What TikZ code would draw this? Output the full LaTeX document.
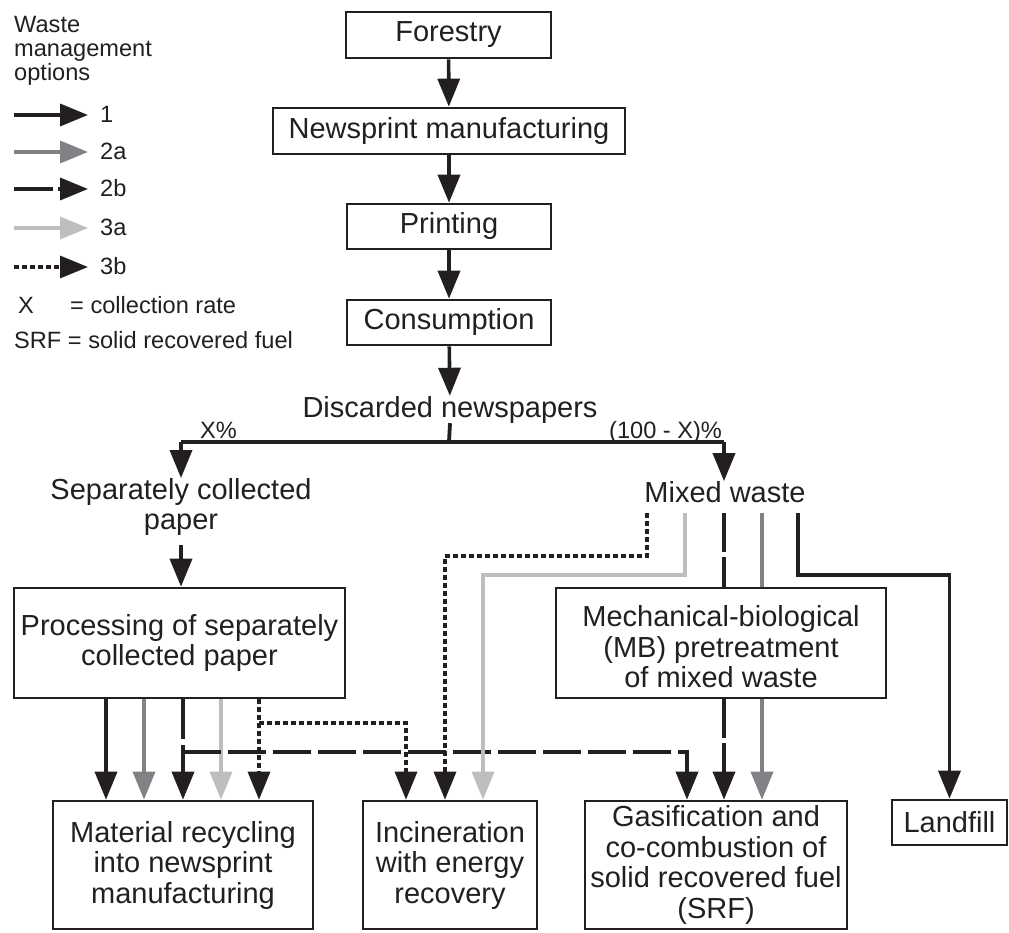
\documentclass[tikz,border=0pt]{standalone}
\usepackage{fontspec}
\setmainfont{Liberation Sans}
\usetikzlibrary{arrows.meta}
\definecolor{ink}{HTML}{231F20}
\definecolor{midgray}{HTML}{808285}
\definecolor{palegray}{HTML}{BCBEC0}
\newcommand\bigtext{\fontsize{29}{30.5}\selectfont}
\newcommand\smalltext{\fontsize{23.6}{24.2}\selectfont}
\begin{document}
\begin{tikzpicture}[x=1pt,y=-1pt,
  box/.style={draw=ink, line width=2.6pt, inner sep=0pt, align=center, font=\bigtext, text=ink},
  txt/.style={inner sep=0pt, align=center, font=\bigtext, text=ink},
  legtxt/.style={inner sep=0pt, font=\smalltext, text=ink},
  plain/.style={draw=ink, line width=3.8pt},
  flow/.style={draw=ink, line width=3.6pt, -{Triangle[length=28pt,width=22pt]}},
  opt1/.style={flow},
  opt2a/.style={flow, draw=midgray},
  opt2b/.style={flow, dash pattern=on 39pt off 5pt},
  opt3a/.style={flow, draw=palegray},
  opt3b/.style={flow, line width=3.3pt, dash pattern=on 5pt off 3pt}]
\useasboundingbox (0,0) rectangle (1009,933);

% ---------- legend ----------
\node[legtxt, anchor=north west, align=left] (legtitle) at (14,16) {Waste\\management\\options};
\coordinate (l1s) at (14,115); \coordinate (l1e) at (88,115);
\coordinate (l2s) at (14,152); \coordinate (l2e) at (88,152);
\coordinate (l3s) at (14,189); \coordinate (l3e) at (88,189);
\coordinate (l4s) at (14,228); \coordinate (l4e) at (88,228);
\coordinate (l5s) at (14,267); \coordinate (l5e) at (88,267);
\draw[opt1]  (l1s) -- (l1e);
\draw[opt2a] (l2s) -- (l2e);
\draw[opt2b] (l3s) -- (l3e);
\draw[opt3a] (l4s) -- (l4e);
\draw[opt3b] (l5s) -- (l5e);
\node[legtxt, anchor=base west] (lab1)  at (100,123) {1};
\node[legtxt, anchor=base west] (lab2a) at (100,160) {2a};
\node[legtxt, anchor=base west] (lab2b) at (100,197) {2b};
\node[legtxt, anchor=base west] (lab3a) at (100,236) {3a};
\node[legtxt, anchor=base west] (lab3b) at (100,275) {3b};
\node[legtxt, anchor=base west] (xsym) at (18,313) {X};
\node[legtxt, anchor=base west] (xdef) at (70,313) {= collection rate};
\node[legtxt, anchor=base west] (srf) at (14,348) {SRF = solid recovered fuel};

% ---------- production chain ----------
\node[box, minimum width=205pt, minimum height=46pt] (forestry) at (448.5,35) {Forestry};
\node[box, minimum width=352pt, minimum height=46pt] (newsprint) at (449,131) {Newsprint manufacturing};
\node[box, minimum width=204pt, minimum height=45pt] (printing) at (449,226.5) {Printing};
\node[box, minimum width=204pt, minimum height=45pt] (consumption) at (449,322.5) {Consumption};
\node[txt, anchor=base] (discarded) at (450,417) {Discarded newspapers};

\draw[opt1] (forestry) -- (newsprint);
\draw[opt1] (newsprint) -- (printing);
\draw[opt1] (printing) -- (consumption);
\draw[opt1] (consumption) -- (discarded);

% ---------- split by collection rate ----------
\coordinate (split) at (449,442);
\coordinate (splitL) at (181,442);
\coordinate (splitR) at (724,442);
\draw[plain] (discarded.south) -- (split);
\draw[plain] (splitL) -- (splitR);
\node[legtxt, anchor=base west] (xpct) at (200,438) {X\%};
\node[legtxt, anchor=base west] (rest) at (609,438) {(100 - X)\%};

\node[txt] (sep) at (181,507) {Separately collected\\paper};
\node[txt] (mixed) at (725,492) {Mixed waste};
\draw[opt1] (splitL) -- (splitL |- sep.north);
\draw[opt1] (splitR) -- (splitR |- mixed.north);

% ---------- treatment ----------
\node[box, minimum width=331pt, minimum height=110pt] (proc) at (179.5,643) {Processing of separately\\collected paper};
\node[box, minimum width=330pt, minimum height=110pt] (mb) at (721,643) {};
\node[txt] (mbtext) at (721,647) {Mechanical-biological\\(MB) pretreatment\\of mixed waste};
\draw[opt1, shorten <=9pt] (sep.south) -- (sep.south |- proc.north);

% ---------- end-of-life options ----------
\node[box, minimum width=260pt, minimum height=128pt] (recyc) at (183,865) {Material recycling\\into newsprint\\manufacturing};
\node[box, minimum width=174pt, minimum height=128pt] (incin) at (450,865) {Incineration\\with energy\\recovery};
\node[box, minimum width=262pt, minimum height=128pt] (gasif) at (716,865) {Gasification and\\co-combustion of\\solid recovered fuel\\(SRF)};
\node[box, minimum width=115pt, minimum height=45pt] (landfill) at (949.5,822.5) {Landfill};

% flows out of the processing of collected paper
\coordinate (p1) at (106,0); \coordinate (p2) at (144,0); \coordinate (p3) at (183,0);
\coordinate (p4) at (221,0); \coordinate (p5) at (259,0);
\coordinate (i1) at (406,0); \coordinate (i2) at (445,0); \coordinate (i3) at (483,0);
\coordinate (g1) at (687,0);
\coordinate (j2b) at (183,752);
\coordinate (j3b) at (259,723);
\draw[opt1]  (proc.south -| p1) -- (recyc.north -| p1);
\draw[opt2a] (proc.south -| p2) -- (recyc.north -| p2);
\draw[opt2b, dash pattern=on 40pt off 6pt] (proc.south -| p3) -- (recyc.north -| p3);
\draw[opt3a] (proc.south -| p4) -- (recyc.north -| p4);
\draw[opt3b] (proc.south -| p5) -- (recyc.north -| p5);
\draw[opt3b] (j3b) -| (incin.north -| i1);
\draw[opt2b, dash pattern=on 38pt off 7pt] (j2b) -| (gasif.north -| g1);

% flows out of the mixed waste
\coordinate (m1) at (647,513); \coordinate (m2) at (685,513); \coordinate (m3) at (724,513);
\coordinate (m4) at (762,513); \coordinate (m5) at (798,513);
\coordinate (c3b) at (647,556);
\coordinate (c3a) at (685,575);
\coordinate (c1) at (798,575);
\draw[opt3b] (m1) -- (c3b) -| (incin.north -| i2);
\draw[opt3a] (m2) -- (c3a) -| (incin.north -| i3);
\draw[opt2b, -] (m3) -- (mb.north -| m3);
\draw[opt2a, -] (m4) -- (mb.north -| m4);
\draw[opt1] (m5) -- (c1) -| (landfill.north);
\draw[opt2b] (mb.south -| m3) -- (gasif.north -| m3);
\draw[opt2a] (mb.south -| m4) -- (gasif.north -| m4);
\end{tikzpicture}
\end{document}
